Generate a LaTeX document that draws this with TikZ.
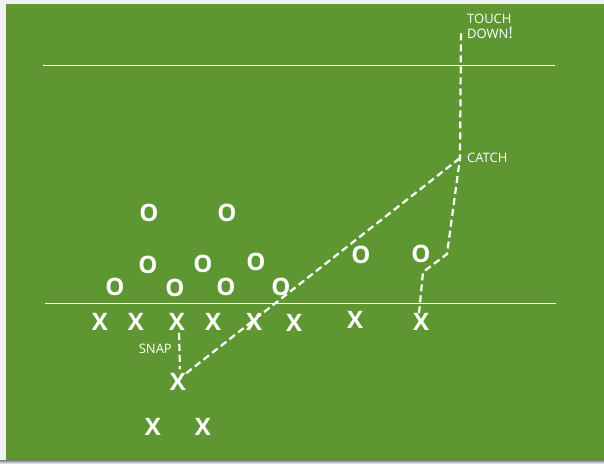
\documentclass[tikz,border=0pt]{standalone}
\usepackage{fontspec}
\setmainfont{Open Sans}
\usetikzlibrary{positioning}
\definecolor{field}{RGB}{94,151,50}
\definecolor{shade}{RGB}{138,138,142}
\tikzset{
  player/.style = {font=\bfseries\fontsize{24}{24}\selectfont, text=white, inner sep=0pt},
  yard/.style   = {draw=white, line width=1pt},
  route/.style  = {draw=white, line width=2.2pt, dash pattern=on 7pt off 4pt},
  lbl/.style    = {font=\fontsize{13}{15}\selectfont, text=white, inner sep=1pt, align=left}
}

\begin{document}
\begin{tikzpicture}[x=1pt, y=-1pt]
\useasboundingbox (0,0) rectangle (604,464);
\fill[black!6] (0,0) rectangle (604,464);
\fill[shade] (0,460) rectangle (604,464);
\fill[field] (6,4) rectangle (604,460);

% yard lines
\draw[yard] (43,65) -- (555,65);
\draw[yard] (45,303) -- (556,303);

% defense
\node[player] (o1)  at (149,213) {O};
\node[player] (o2)  at (227,213) {O};
\node[player] (o3)  at (148,265) {O};
\node[player] (o4)  at (203,264) {O};
\node[player] (o5)  at (256,262) {O};
\node[player] (o6)  at (115,287) {O};
\node[player] (o7)  at (175,288) {O};
\node[player] (o8)  at (226,287) {O};
\node[player] (o9)  at (281,287) {O};
\node[player] (o10) at (361,255) {O};
\node[player] (o11) at (421,254) {O};

% offense
\node[player] (x1) at (100,322) {X};
\node[player] (x2) at (136,322) {X};
\node[player] (x3) at (177,322) {X};
\node[player] (x4) at (213,322) {X};
\node[player] (x5) at (254,322) {X};
\node[player] (x6) at (294,323) {X};
\node[player] (x7) at (355,320) {X};
\node[player] (x8) at (421,322) {X};
\node[player] (qb) at (178,382) {X};
\node[player] (rb1) at (153,427) {X};
\node[player] (rb2) at (203,427) {X};

\coordinate (catch) at (460,158);
\coordinate (td) at (461,30);
\coordinate (cut1) at (423,272);
\coordinate (cut2) at (447,254);

\node[lbl, anchor=east] (snap) at (173,349) {SNAP};
\node[lbl, anchor=west] (catchlbl) at (466,158) {CATCH};
\node[lbl, anchor=north west] (tdlbl) at (466,13)
      {TOUCH\\DOWN{\fontsize{16}{15}\selectfont !}};

% routes
\draw[route, shorten <=2pt, shorten >=4pt] ([xshift=2pt]x3.south) -- ([xshift=2pt]qb.north);
\draw[route] (qb.north east) -- (catch);
\draw[route] ([xshift=-2pt]x8.north) -- (cut1) -- (cut2) -- (catch) -- (td);
\end{tikzpicture}
\end{document}
